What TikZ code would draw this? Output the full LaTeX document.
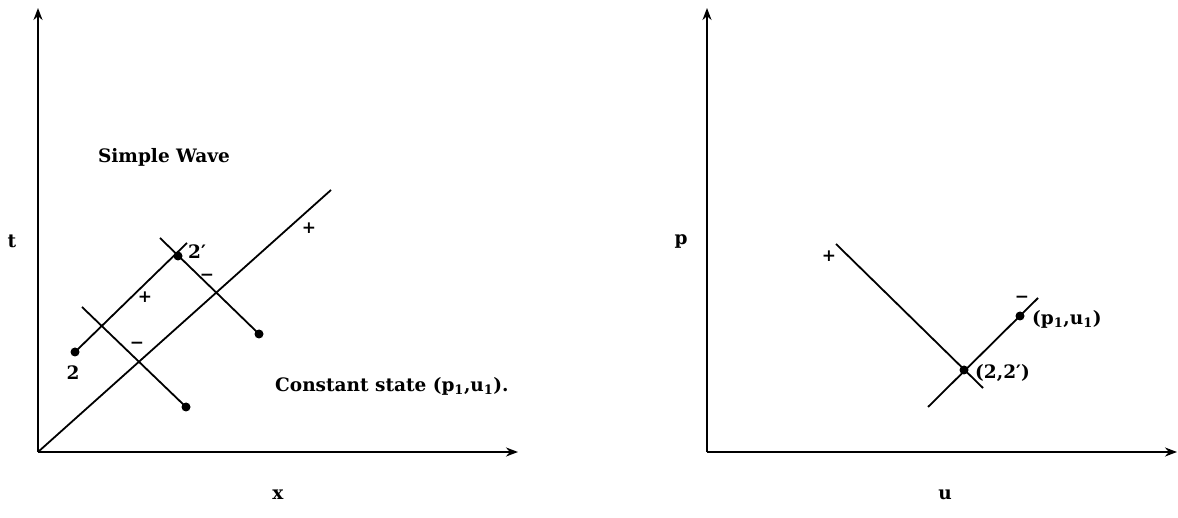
\documentclass[tikz,border=0pt]{standalone}
\usepackage{fontspec}
\setmainfont{DejaVu Serif}
\usetikzlibrary{arrows.meta}
\newcommand{\prm}{\char"2032}
\begin{document}
\begin{tikzpicture}[x=1pt,y=-1pt,
  ax/.style={line width=2pt,-{Stealth[length=12pt,width=9pt]}},
  ln/.style={line width=1.8pt},
  dot/.style={circle,fill=black,inner sep=0pt,minimum size=9pt},
  lab/.style={font=\fontsize{18.5}{21}\selectfont\bfseries,inner sep=0pt},
  sm/.style={font=\fontsize{17}{19}\selectfont\bfseries,inner sep=0pt}]
\useasboundingbox (0,0) rectangle (1178,518);
% left panel
\coordinate (O) at (38,452);
\coordinate (Ty) at (38,8);
\coordinate (Tx) at (518,452);
\draw[ax] (O) -- (Ty);
\draw[ax] (O) -- (Tx);
\node[lab] (t) at (12,241) {t};
\node[lab] (x) at (278,495) {x};
\coordinate (D) at (331,190);
\draw[ln] (O) -- (D);
\node[dot] (p2) at (75,352) {};
\node[dot] (p2p) at (178,256) {};
\coordinate (E1) at (187,243);
\draw[ln] (p2.center) -- (E1);
\coordinate (M1) at (160,238);
\node[dot] (d1) at (259,334) {};
\draw[ln] (M1) -- (d1.center);
\coordinate (M2) at (82,307);
\node[dot] (d2) at (186,407) {};
\draw[ln] (M2) -- (d2.center);
\node[lab] (l2) at (73,373) {2};
\node[lab,anchor=west] (l2p) at (188,252) {2\prm};
\node[sm] (pl1) at (309,228) {+};
\node[sm] (pl2) at (145,297) {+};
\node[sm] (mi1) at (207,277) {\textminus};
\node[sm] (mi2) at (137,345) {\textminus};
\node[lab] (sw) at (164,157) {Simple Wave};
\node[lab,anchor=west] (cs) at (275,386) {Constant state (p\textsubscript{1},u\textsubscript{1}).};
% right panel
\coordinate (O2) at (707,452);
\coordinate (Py) at (707,8);
\coordinate (Ux) at (1177,452);
\draw[ax] (O2) -- (Py);
\draw[ax] (O2) -- (Ux);
\node[lab] (p) at (681,241) {p};
\node[lab] (u) at (945,495) {u};
\coordinate (A1) at (836,244);
\coordinate (A2) at (983,388);
\draw[ln] (A1) -- (A2);
\coordinate (B1) at (928,407);
\coordinate (B2) at (1038,298);
\draw[ln] (B1) -- (B2);
\node[dot] (q1) at (964,370) {};
\node[dot] (q2) at (1020,316) {};
\node[sm] (pl3) at (829,256) {+};
\node[sm] (mi3) at (1022,299) {\textminus};
\node[lab,anchor=west] (lq2) at (1032,319) {(p\textsubscript{1},u\textsubscript{1})};
\node[lab,anchor=west] (lq1) at (975,373) {(2,2\prm)};
\end{tikzpicture}
\end{document}
